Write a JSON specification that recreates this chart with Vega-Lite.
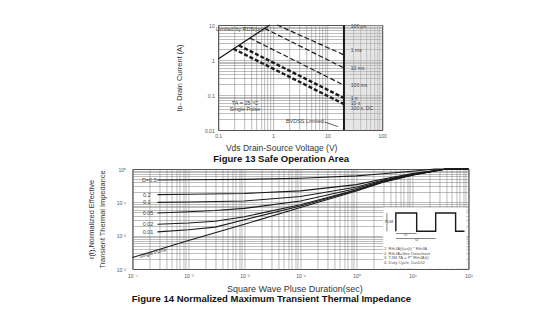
{
  "$schema": "https://vega.github.io/schema/vega-lite/v6.json",
  "background": "white",
  "padding": {"left": 86, "top": 21, "right": 5, "bottom": 5},
  "spacing": 2,
  "center": true,
  "config": {
    "font": "Liberation Sans",
    "view": {"stroke": "#2a2a2a", "strokeWidth": 1},
    "axis": {"domain": false, "ticks": false, "grid": true, "gridColor": "#7a7a7a", "gridWidth": 0.5, "labelColor": "#555", "labelFontSize": 5, "labelFont": "Liberation Sans", "titleFont": "Liberation Sans", "titleColor": "#333", "titleFontWeight": "normal", "labelOverlap": false, "labelFlush": false, "labelBound": false},
    "title": {"font": "Liberation Sans"},
    "text": {"font": "Liberation Sans"}
  },
  "datasets": {
    "soa": [
      {"series": "1 ms", "V": 1.2, "I": 10}, {"series": "1 ms", "V": 20, "I": 1.4},
      {"series": "10 ms", "V": 0.71, "I": 8.0}, {"series": "10 ms", "V": 20, "I": 0.59},
      {"series": "100 ms", "V": 0.38, "I": 4.25}, {"series": "100 ms", "V": 20, "I": 0.19},
      {"series": "1 s", "V": 0.24, "I": 2.6}, {"series": "1 s", "V": 20, "I": 0.082},
      {"series": "DC", "V": 0.19, "I": 2.09}, {"series": "DC", "V": 20, "I": 0.055}
    ],
    "zth": [
      {"series": "single", "t": 0.0001, "z": 0.0022}, {"series": "single", "t": 0.001, "z": 0.0072}, {"series": "single", "t": 0.01, "z": 0.022}, {"series": "single", "t": 0.1, "z": 0.07}, {"series": "single", "t": 1, "z": 0.22}, {"series": "single", "t": 3, "z": 0.4}, {"series": "single", "t": 10, "z": 0.65}, {"series": "single", "t": 40, "z": 1.0}, {"series": "single", "t": 100, "z": 1.0},
      {"series": "0.01", "t": 0.00028, "z": 0.013}, {"series": "0.01", "t": 0.001, "z": 0.015}, {"series": "0.01", "t": 0.003, "z": 0.018}, {"series": "0.01", "t": 0.01, "z": 0.03}, {"series": "0.01", "t": 0.1, "z": 0.078}, {"series": "0.01", "t": 1, "z": 0.23}, {"series": "0.01", "t": 3, "z": 0.41}, {"series": "0.01", "t": 10, "z": 0.66}, {"series": "0.01", "t": 40, "z": 1.0}, {"series": "0.01", "t": 100, "z": 1.0},
      {"series": "0.02", "t": 0.00028, "z": 0.022}, {"series": "0.02", "t": 0.001, "z": 0.024}, {"series": "0.02", "t": 0.003, "z": 0.027}, {"series": "0.02", "t": 0.01, "z": 0.037}, {"series": "0.02", "t": 0.1, "z": 0.085}, {"series": "0.02", "t": 1, "z": 0.24}, {"series": "0.02", "t": 3, "z": 0.42}, {"series": "0.02", "t": 10, "z": 0.67}, {"series": "0.02", "t": 40, "z": 1.0}, {"series": "0.02", "t": 100, "z": 1.0},
      {"series": "0.05", "t": 0.00028, "z": 0.048}, {"series": "0.05", "t": 0.001, "z": 0.052}, {"series": "0.05", "t": 0.003, "z": 0.057}, {"series": "0.05", "t": 0.01, "z": 0.066}, {"series": "0.05", "t": 0.1, "z": 0.11}, {"series": "0.05", "t": 1, "z": 0.26}, {"series": "0.05", "t": 3, "z": 0.44}, {"series": "0.05", "t": 10, "z": 0.68}, {"series": "0.05", "t": 40, "z": 1.0}, {"series": "0.05", "t": 100, "z": 1.0},
      {"series": "0.1", "t": 0.00028, "z": 0.1}, {"series": "0.1", "t": 0.001, "z": 0.102}, {"series": "0.1", "t": 0.01, "z": 0.11}, {"series": "0.1", "t": 0.1, "z": 0.15}, {"series": "0.1", "t": 1, "z": 0.29}, {"series": "0.1", "t": 3, "z": 0.47}, {"series": "0.1", "t": 10, "z": 0.7}, {"series": "0.1", "t": 40, "z": 1.0}, {"series": "0.1", "t": 100, "z": 1.0},
      {"series": "0.2", "t": 0.00028, "z": 0.17}, {"series": "0.2", "t": 0.001, "z": 0.175}, {"series": "0.2", "t": 0.01, "z": 0.185}, {"series": "0.2", "t": 0.1, "z": 0.22}, {"series": "0.2", "t": 1, "z": 0.34}, {"series": "0.2", "t": 3, "z": 0.5}, {"series": "0.2", "t": 10, "z": 0.73}, {"series": "0.2", "t": 40, "z": 1.0}, {"series": "0.2", "t": 100, "z": 1.0},
      {"series": "0.5", "t": 0.00028, "z": 0.47}, {"series": "0.5", "t": 0.001, "z": 0.475}, {"series": "0.5", "t": 0.01, "z": 0.49}, {"series": "0.5", "t": 0.1, "z": 0.53}, {"series": "0.5", "t": 1, "z": 0.62}, {"series": "0.5", "t": 3, "z": 0.72}, {"series": "0.5", "t": 10, "z": 0.86}, {"series": "0.5", "t": 25, "z": 1.0}, {"series": "0.5", "t": 100, "z": 1.0}
    ]
  },
  "vconcat": [
    {
      "width": 164,
      "height": 105,
      "title": {"text": "Figure 13 Safe Operation Area", "orient": "bottom", "fontSize": 9.5, "fontWeight": "bold", "color": "#111", "offset": 2, "dx": -19},
      "encoding": {
        "x": {"field": "V", "type": "quantitative", "scale": {"type": "log", "domain": [0.1, 100], "nice": false},
          "axis": {"values": [0.1, 0.2, 0.3, 0.4, 0.5, 0.6, 0.7, 0.8, 0.9, 1, 2, 3, 4, 5, 6, 7, 8, 9, 10, 20, 30, 40, 50, 60, 70, 80, 90, 100], "format": "~g",
            "labelExpr": "indexof([0.1, 1, 10, 100], datum.value) >= 0 ? datum.label : ''", "labelPadding": 3,
            "title": "Vds Drain-Source Voltage (V)", "titleFontSize": 8.5, "titlePadding": 5, "titleX": 63}},
        "y": {"field": "I", "type": "quantitative", "scale": {"type": "log", "domain": [0.01, 10], "nice": false},
          "axis": {"values": [0.01, 0.02, 0.03, 0.04, 0.05, 0.06, 0.07, 0.08, 0.09, 0.1, 0.2, 0.3, 0.4, 0.5, 0.6, 0.7, 0.8, 0.9, 1, 2, 3, 4, 5, 6, 7, 8, 9, 10], "format": "~g",
            "labelExpr": "indexof([0.01, 0.1, 1, 10], datum.value) >= 0 ? datum.label : ''", "labelPadding": 4,
            "title": "Iᴅ- Drain Current (A)", "titleFontSize": 7.4, "titlePadding": 21}}
      },
      "layer": [
        {"data": {"values": [{"V": 20, "V2": 100, "I": 0.01, "I2": 10}]}, "mark": {"type": "rect", "fill": "#c8c8c8", "opacity": 0.45}, "encoding": {"x2": {"field": "V2"}, "y2": {"field": "I2"}}},
        {"data": {"name": "soa"}, "transform": [{"filter": "datum.series == '1 ms' || datum.series == '10 ms' || datum.series == '100 ms'"}], "mark": {"type": "line", "color": "#1a1a1a", "strokeWidth": 1.2, "strokeDash": [5, 2.5]}, "encoding": {"detail": {"field": "series"}}},
        {"data": {"name": "soa"}, "transform": [{"filter": "datum.series == '1 s' || datum.series == 'DC'"}], "mark": {"type": "line", "color": "#1a1a1a", "strokeWidth": 2.4, "strokeDash": [4, 2]}, "encoding": {"detail": {"field": "series"}}},
        {"data": {"values": [{"V": 0.1, "I": 1.07}, {"V": 0.88, "I": 10}]}, "mark": {"type": "line", "color": "#1a1a1a", "strokeWidth": 1.3}, "encoding": {}},
        {"data": {"values": [{"V": 20, "I": 0.01, "I2": 10}]}, "mark": {"type": "rule", "color": "#1a1a1a", "strokeWidth": 2}, "encoding": {"y2": {"field": "I2"}}},
        {"data": {"values": [{"V": 8.9, "I": 0.017}, {"V": 15.5, "I": 0.0125}]}, "mark": {"type": "line", "color": "#333", "strokeWidth": 0.8}, "encoding": {}},
        {"data": {"values": [
          {"V": 26.7, "I": 9.3, "label": "100 µs"}, {"V": 26.7, "I": 1.9, "label": "1 ms"}, {"V": 26.7, "I": 0.6, "label": "10 ms"}, {"V": 26.7, "I": 0.19, "label": "100 ms"},
          {"V": 26.7, "I": 0.08, "label": "1 s"}, {"V": 26.7, "I": 0.058, "label": "10 s"}, {"V": 26.7, "I": 0.042, "label": "100 s, DC"}]},
          "mark": {"type": "text", "align": "left", "fontSize": 5, "color": "#444"}, "encoding": {"text": {"field": "label"}}},
        {"data": {"values": [
          {"V": 0.25, "I": 7.7, "label": "Limited by RDS(on)"}, {"V": 0.31, "I": 0.059, "label": "TA = 25 °C"}, {"V": 0.31, "I": 0.041, "label": "Single Pulse"}, {"V": 3.85, "I": 0.018, "label": "BVDSS Limited"}]},
          "mark": {"type": "text", "align": "center", "fontSize": 5.5, "color": "#444"}, "encoding": {"text": {"field": "label"}}}
      ]
    },
    {
      "width": 336,
      "height": 100,
      "title": {"text": "Figure 14 Normalized Maximum Transient Thermal Impedance", "orient": "bottom", "fontSize": 9.5, "fontWeight": "bold", "color": "#111", "offset": 1, "dx": -29},
      "encoding": {
        "x": {"field": "t", "type": "quantitative", "scale": {"type": "log", "domain": [0.0001, 100], "nice": false},
          "axis": {"values": [0.0001, 0.0002, 0.0003, 0.0004, 0.0005, 0.0006, 0.0007, 0.0008, 0.0009, 0.001, 0.002, 0.003, 0.004, 0.005, 0.006, 0.007, 0.008, 0.009, 0.01, 0.02, 0.03, 0.04, 0.05, 0.06, 0.07, 0.08, 0.09, 0.1, 0.2, 0.3, 0.4, 0.5, 0.6, 0.7, 0.8, 0.9, 1, 2, 3, 4, 5, 6, 7, 8, 9, 10, 20, 30, 40, 50, 60, 70, 80, 90, 100],
            "labelExpr": "datum.value == 0.0001 ? '10⁻⁴' : datum.value == 0.001 ? '10⁻³' : datum.value == 0.01 ? '10⁻²' : datum.value == 0.1 ? '10⁻¹' : datum.value == 1 ? '10⁰' : datum.value == 10 ? '10¹' : datum.value == 100 ? '10²' : ''",
            "labelPadding": 4, "title": "Square Wave Pluse Duration(sec)", "titleFontSize": 9, "titlePadding": 6, "titleX": 162}},
        "y": {"field": "z", "type": "quantitative", "scale": {"type": "log", "domain": [0.001, 1], "nice": false},
          "axis": {"values": [0.001, 0.002, 0.003, 0.004, 0.005, 0.006, 0.007, 0.008, 0.009, 0.01, 0.02, 0.03, 0.04, 0.05, 0.06, 0.07, 0.08, 0.09, 0.1, 0.2, 0.3, 0.4, 0.5, 0.6, 0.7, 0.8, 0.9, 1],
            "labelExpr": "datum.value == 1 ? '10⁰' : datum.value == 0.1 ? '10⁻¹' : datum.value == 0.01 ? '10⁻²' : datum.value == 0.001 ? '10⁻³' : ''",
            "labelPadding": 7, "title": ["r(t),Normalized Effective", "Transient Thermal Impedance"], "titleFontSize": 7.4, "titleLineHeight": 11, "titlePadding": 10}}
      },
      "layer": [
        {"data": {"name": "zth"}, "mark": {"type": "line", "color": "#1a1a1a", "strokeWidth": 1.1}, "encoding": {"detail": {"field": "series"}}},
        {"data": {"values": [{"t": 3, "t2": 93, "z": 0.00106, "z2": 0.07}]}, "mark": {"type": "rect", "fill": "white"}, "encoding": {"x2": {"field": "t2"}, "y2": {"field": "z2"}}},
        {"data": {"values": [
          {"k": 1, "t": 5.05, "z": 0.0136}, {"k": 2, "t": 5.05, "z": 0.048}, {"k": 3, "t": 11.9, "z": 0.048}, {"k": 4, "t": 11.9, "z": 0.0136},
          {"k": 5, "t": 26, "z": 0.0136}, {"k": 6, "t": 26, "z": 0.048}, {"k": 7, "t": 59, "z": 0.048}, {"k": 8, "t": 59, "z": 0.0136}, {"k": 9, "t": 85, "z": 0.0136}]},
          "mark": {"type": "line", "color": "#1a1a1a", "strokeWidth": 1.4}, "encoding": {"order": {"field": "k"}}},
        {"data": {"values": [{"t": 3.5, "t2": 3.5, "z": 0.0136, "z2": 0.048}, {"t": 5.05, "t2": 11.9, "z": 0.0116, "z2": 0.0116}, {"t": 5.05, "t2": 26, "z": 0.0082, "z2": 0.0082}]},
          "mark": {"type": "rule", "color": "#333", "strokeWidth": 0.6}, "encoding": {"x2": {"field": "t2"}, "y2": {"field": "z2"}}},
        {"data": {"values": [{"t": 3.8, "z": 0.025, "label": "PDM"}, {"t": 7.6, "z": 0.0105, "label": "t1"}, {"t": 12, "z": 0.0074, "label": "t2"}]},
          "mark": {"type": "text", "align": "center", "fontSize": 3.8, "color": "#444"}, "encoding": {"text": {"field": "label"}}},
        {"data": {"values": [
          {"t": 0.0002, "z": 0.46, "label": "D=0.5"}, {"t": 0.00018, "z": 0.17, "label": "0.2"}, {"t": 0.00018, "z": 0.1, "label": "0.1"},
          {"t": 0.00019, "z": 0.048, "label": "0.05"}, {"t": 0.00019, "z": 0.022, "label": "0.02"}, {"t": 0.00019, "z": 0.013, "label": "0.01"}]},
          "mark": {"type": "text", "align": "center", "fontSize": 5.5, "color": "#444"}, "encoding": {"text": {"field": "label"}}},
        {"data": {"values": [{"t": 0.00023, "z": 0.0031, "label": "Single Pulse"}]},
          "mark": {"type": "text", "align": "center", "fontSize": 5, "angle": 345, "color": "#444"}, "encoding": {"text": {"field": "label"}}},
        {"data": {"values": [
          {"t": 3.1, "z": 0.004, "label": "1. RthJA(t)=r(t) * RthJA"}, {"t": 3.1, "z": 0.0029, "label": "2. RthJA=See Datasheet"},
          {"t": 3.1, "z": 0.0021, "label": "3. TJM-TA = P* RthJA(t)"}, {"t": 3.1, "z": 0.00155, "label": "4. Duty Cycle, D=t1/t2"}]},
          "mark": {"type": "text", "align": "left", "fontSize": 4.2, "color": "#555"}, "encoding": {"text": {"field": "label"}}}
      ]
    }
  ]
}
